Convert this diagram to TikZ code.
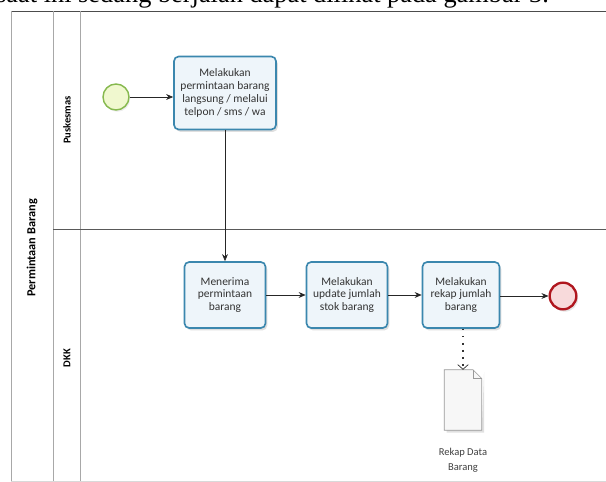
\documentclass[tikz,border=0pt]{standalone}
\usepackage{fontspec}
\setmainfont{Liberation Serif}
\setsansfont{Carlito}
\usepackage{tikz}
\usetikzlibrary{arrows.meta, positioning, shadows}

\definecolor{taskline}{HTML}{3B87AE}
\definecolor{taskfill}{HTML}{EEF5FA}
\definecolor{startline}{HTML}{86B94E}
\definecolor{startfill}{HTML}{F0F8CF}
\definecolor{endline}{HTML}{B0161E}
\definecolor{endfill}{HTML}{F8DADB}
\definecolor{poolline}{HTML}{A8A8A8}

\begin{document}
\begin{tikzpicture}[x=0.03cm, y=-0.03cm,
            task/.style={draw=taskline, line width=1.4pt, rounded corners=4pt, fill=taskfill, align=center,
                font=\sffamily\fontsize{9.8}{11}\selectfont, text=black!80,
                drop shadow={opacity=0.25, shadow xshift=1.5pt, shadow yshift=-2pt}},
            lane/.style={rotate=90, font=\sffamily\bfseries\fontsize{9}{10}\selectfont},
            flow/.style={-{Stealth[length=6pt, width=5pt]}, line width=0.6pt, black!85}]

            \useasboundingbox[fill=white] (0,0) rectangle (606,482);

            % text of the page above the picture
            \begin{scope}
                \clip (0,-20) rectangle (606,8);
                \node[anchor=base west, inner sep=0pt, font=\rmfamily\fontsize{22.5}{24}\selectfont] (caption) at (-4,2.5)
                    {saat ini sedang berjalan dapat dilihat pada gambar 3.};
            \end{scope}

            % pool and lanes
            \draw[black!70, line width=0.8pt] (11,11) -- (606,11);
            \draw[poolline, line width=0.8pt] (11,11) -- (11,481);
            \draw[poolline, line width=0.8pt] (53,11) -- (53,481);
            \draw[poolline, line width=0.8pt] (80,11) -- (80,481);
            \draw[black!65, line width=0.8pt] (53,229) -- (606,229);
            \draw[black!15, line width=0.6pt] (11,481) -- (606,481);

            \node[lane, font=\sffamily\bfseries\fontsize{10.5}{11}\selectfont] (pool) at (32,248) {Permintaan Barang};
            \node[lane] (puskesmas) at (67,120) {Puskesmas};
            \node[lane] (dkk) at (67,358) {DKK};

            % events and tasks
            \node[circle, draw=startline, line width=1.2pt, fill=startfill, minimum size=0.78cm,
                drop shadow={opacity=0.15, shadow xshift=1pt, shadow yshift=-1.5pt}] (start) at (116,97) {};
            \node[task, minimum width=3.06cm, minimum height=2.19cm] (minta) at (225,93)
                {Melakukan\\permintaan barang\\langsung / melalui\\telpon / sms / wa};
            \node[task, minimum width=2.43cm, minimum height=1.98cm] (terima) at (225,295)
                {Menerima\\permintaan\\barang};
            \node[task, minimum width=2.43cm, minimum height=1.98cm] (update) at (347,295)
                {Melakukan\\update jumlah\\stok barang};
            \node[task, minimum width=2.31cm, minimum height=1.98cm] (rekap) at (461,295)
                {Melakukan\\rekap jumlah\\barang};
            \node[circle, draw=endline, line width=2pt, fill=endfill, minimum size=0.8cm,
                drop shadow={opacity=0.2, shadow xshift=1.5pt, shadow yshift=-2pt}] (end) at (563,296) {};

            % data object
            \node[minimum width=1.11cm, minimum height=1.8cm, inner sep=0pt] (data) at (463,400) {};
            \fill[black!20, opacity=0.6] ([shift={(2pt,-2pt)}]data.north east) -- ([shift={(2pt,-2pt)}]data.south east)
                -- ([shift={(2pt,-2pt)}]data.south west) -- ([shift={(2pt,0pt)}]data.south west) -- (data.south east) -- cycle;
            \draw[black!40, fill=black!3, line width=0.5pt] (data.north west) -- ([xshift=-7.5pt]data.north east)
                -- ([yshift=-7.5pt]data.north east) -- (data.south east) -- (data.south west) -- cycle;
            \draw[black!40, line width=0.5pt] ([xshift=-7.5pt]data.north east) |- ([yshift=-7.5pt]data.north east);
            \node[below=0.4cm of data, align=center, font=\sffamily\fontsize{9}{13}\selectfont, text=black!75] (datalabel)
                {Rekap Data\\Barang};

            % flows
            \draw[flow] (start) -- (start -| minta.west);
            \draw[flow] (minta) -- (terima);
            \draw[flow] (terima) -- (update);
            \draw[flow] (update) -- (rekap);
            \draw[flow] (rekap.east |- end) -- (end);
            \draw[black!80, line width=1.4pt, dash pattern=on 1.4pt off 4.6pt,
                -{Straight Barb[length=4pt, width=9pt, line width=0.6pt]}]
                (rekap.south -| data) -- (data.north);
        \end{tikzpicture}
\end{document}
